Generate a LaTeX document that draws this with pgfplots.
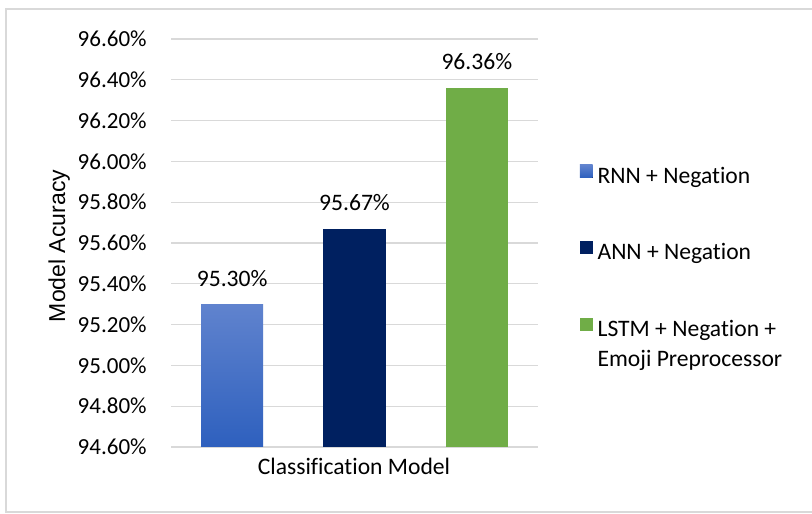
\documentclass[border=0pt]{standalone}
\usepackage{pgfplots}
\pgfplotsset{compat=1.18}
\usepackage{fontspec}
\setmainfont{Carlito}[Ligatures={NoCommon,NoRare,NoContextual}]
\newfontfamily\arialf{Liberation Sans}
\definecolor{gridc}{HTML}{D9D9D9}
\definecolor{rnnTop}{RGB}{96,131,206}
\definecolor{rnnBot}{RGB}{46,96,190}
\definecolor{annc}{HTML}{002060}
\definecolor{lstmc}{HTML}{70AD47}
\newcommand{\cfont}{\fontsize{11.5}{14.5}\selectfont}
\newcommand{\lfont}{\fontsize{11.8}{15}\selectfont}
\begin{document}
\begin{tikzpicture}
\useasboundingbox (-85.5pt,-33pt) rectangle (320.5pt,223.5pt);
\fill[white] (-85.5pt,-33pt) rectangle (320.5pt,223.5pt);
\draw[gridc, line width=0.75pt] (-82.5pt,-32.6pt) rectangle (325pt,219pt);
\begin{axis}[
  at={(0,0)}, anchor=south west,
  width=183.5pt, height=204pt, scale only axis,
  xmin=-0.5, xmax=2.5, ymin=94.6, ymax=96.6,
  axis line style={draw=none},
  tick style={draw=none}, major tick length=0pt,
  xtick=\empty,
  ytick={94.6,94.8,95.0,95.2,95.4,95.6,95.8,96.0,96.2,96.4,96.6},
  yticklabel={\pgfmathprintnumber[fixed,fixed zerofill,precision=2]{\tick}\%},
  /pgf/number format/assume math mode=true,
  yticklabel style={anchor=east, inner sep=0pt, xshift=-12pt, font=\cfont},
  ymajorgrids, grid style={gridc, line width=0.65pt},
  no markers,
  xlabel={Classification Model},
  xlabel style={at={(axis description cs:0.4986,-0.0686)}, anchor=base, inner sep=0pt, font=\lfont},
  ylabel={\arialf Model Acuracy},
  ylabel style={at={(axis description cs:-0.2888,0.4926)}, anchor=base, inner sep=0pt, font=\cfont},
  legend image code/.code={\fill[#1] (0pt,0.4pt) rectangle (6.3pt,6.7pt);},
  legend cell align=left,
  legend style={at={(axis description cs:1.1144,0.6912)}, anchor=north west,
    draw=none, fill=none, inner sep=0pt, outer sep=0pt,
    row sep=26.5pt, column sep=2.5pt, font=\lfont,
    nodes={inner sep=0pt, text height=7.6pt, text depth=2.5pt}},
]
\addplot[draw=none, top color=rnnTop, bottom color=rnnBot]
  coordinates {(-0.254,94.6) (0.254,94.6) (0.254,95.30) (-0.254,95.30)};
\addlegendentry{RNN + Negation}
\addplot[draw=none, fill=annc]
  coordinates {(0.746,94.6) (1.254,94.6) (1.254,95.67) (0.746,95.67)};
\addlegendentry{ANN + Negation}
\addplot[draw=none, fill=lstmc]
  coordinates {(1.746,94.6) (2.254,94.6) (2.254,96.36) (1.746,96.36)};
\addlegendentry{\begin{tabular}[t]{@{}l@{}}LSTM + Negation +\\Emoji Preprocessor\end{tabular}}
\addplot[draw=none, forget plot,
  nodes near coords={\pgfmathprintnumber[fixed,fixed zerofill,precision=2]{\pgfplotspointmeta}\%},
  nodes near coords style={anchor=base, inner sep=0pt, yshift=9pt, font=\lfont, text=black}]
  coordinates {(0,95.30) (1,95.67) (2,96.36)};
\end{axis}
\end{tikzpicture}
\end{document}
